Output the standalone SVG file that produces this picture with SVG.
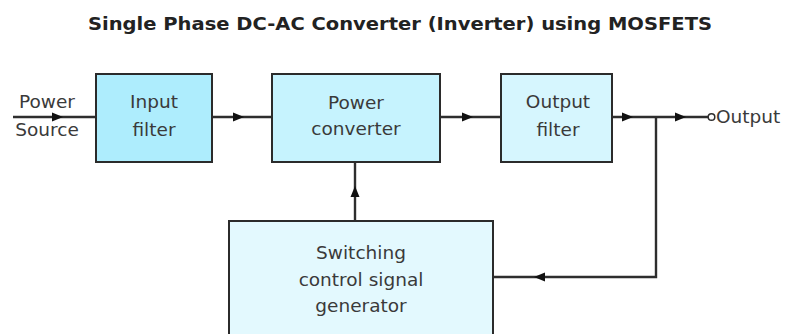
<svg xmlns="http://www.w3.org/2000/svg" xmlns:xlink="http://www.w3.org/1999/xlink" width="788" height="334" viewBox="0 0 788 334">
<style>
.box{stroke:#2b2b2b;stroke-width:2}
.t{font-family:"DejaVu Sans",Verdana,sans-serif;font-size:18.5px;fill:#3a3a3a;text-anchor:middle}
.ln{stroke:#2e2e2e;stroke-width:2.4;fill:none}
.ah{fill:#111}
</style>
<defs>
<path id="ah" d="M0,0 L-11,-4.5 L-11,4.5 Z"/>
</defs>
<rect width="788" height="334" fill="#ffffff"/>
<text x="400" y="30" font-family="'DejaVu Sans',Verdana,sans-serif" font-weight="bold" font-size="17.5" fill="#222" text-anchor="middle" textLength="624" lengthAdjust="spacingAndGlyphs">Single Phase DC-AC Converter (Inverter) using MOSFETS</text>

<g id="connectors">
<path class="ln" d="M13,117 H96"/>
<path class="ln" d="M212,117 H272"/>
<path class="ln" d="M440,117 H501"/>
<path class="ln" d="M612,117 H708"/>
<path class="ln" d="M355,221 V162"/>
<path class="ln" d="M656,117 V277 H493"/>
<circle cx="711.5" cy="117" r="3.3" fill="#fff" stroke="#2e2e2e" stroke-width="1.5"/>
<use href="#ah" class="ah" transform="translate(63,117)"/>
<use href="#ah" class="ah" transform="translate(244,117)"/>
<use href="#ah" class="ah" transform="translate(473,117)"/>
<use href="#ah" class="ah" transform="translate(633,117)"/>
<use href="#ah" class="ah" transform="translate(686,117)"/>
<use href="#ah" class="ah" transform="translate(355,186) rotate(-90)"/>
<use href="#ah" class="ah" transform="translate(534,277) rotate(180)"/>
</g>

<g id="power-source">
<text class="t" x="47" y="108">Power</text>
<text class="t" x="47" y="136">Source</text>
</g>

<g id="input-filter">
<rect class="box" x="96" y="74" width="116" height="88" fill="#aeedfd"/>
<text class="t" x="154" y="108">Input</text>
<text class="t" x="154" y="136">filter</text>
</g>

<g id="power-converter">
<rect class="box" x="272" y="74" width="168" height="88" fill="#c6f3fe"/>
<text class="t" x="356" y="109">Power</text>
<text class="t" x="356" y="135">converter</text>
</g>

<g id="output-filter">
<rect class="box" x="501" y="74" width="111" height="88" fill="#d6f6fe"/>
<text class="t" x="558" y="108">Output</text>
<text class="t" x="558" y="136">filter</text>
</g>

<g id="output">
<text class="t" x="716" y="123" style="text-anchor:start">Output</text>
</g>

<g id="switching-generator">
<rect class="box" x="229" y="221" width="264" height="125" fill="#e3f9fe"/>
<text class="t" x="361" y="259">Switching</text>
<text class="t" x="361" y="286">control signal</text>
<text class="t" x="361" y="312">generator</text>
</g>
</svg>
